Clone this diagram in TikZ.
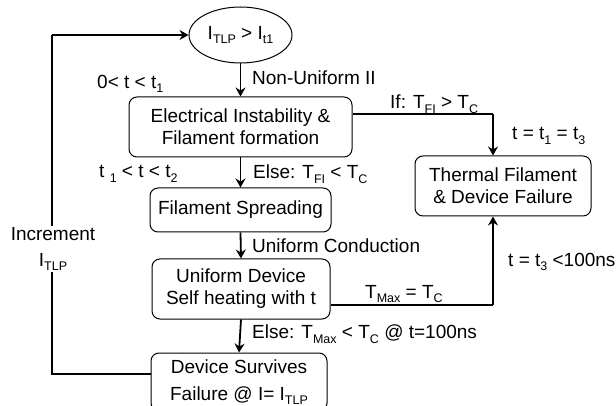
\documentclass[tikz,border=0pt]{standalone}
\usepackage{fontspec}
\setmainfont{Liberation Sans}
\usetikzlibrary{shapes.geometric,arrows.meta}
% small lowered index in the text font
\newcommand\lowix[1]{\raisebox{-4.5pt}{\fontsize{12.5}{12.5}\selectfont #1}}
\begin{document}
\begin{tikzpicture}[x=1pt,y=-1pt,
  every node/.style={font=\fontsize{19}{22}\selectfont},
  stepbox/.style={draw,rounded corners=8pt,line width=1pt,align=center,inner sep=0pt},
  lbl/.style={inner sep=0pt},
  flow/.style={line width=1.8pt,-{Stealth[length=9pt,width=10pt,inset=3pt]}},
  wire/.style={line width=1.2pt}]
\useasboundingbox (0,0) rectangle (616,406);
\begin{scope}
\clip (0,0) rectangle (616,406);

% decision and process boxes
\node[draw,ellipse,line width=1pt,minimum width=103,minimum height=56,inner sep=0pt] (ell) at (240.5,35) {I\lowix{TLP} > I\lowix{t1}};
\node[stepbox,minimum width=223,minimum height=60] (b1) at (240.5,127) {Electrical Instability \&\\Filament formation};
\node[stepbox,minimum width=181,minimum height=44] (b2) at (240.5,210) {Filament Spreading};
\node[stepbox,minimum width=178,minimum height=60] (b3) at (241,289) {Uniform Device\\Self heating with t};
\node[stepbox,minimum width=176,minimum height=58] (b4) at (239,382) {Device Survives\\[5pt]Failure @ I= I\lowix{TLP}};
\node[stepbox,minimum width=176,minimum height=60] (b5) at (503,186) {Thermal Filament\\\& Device Failure};

% main chain
\draw[flow] (ell.south) -- (b1.north);
\draw[flow] (b1.south) -- (b2.north);
\draw[flow] (b2.south) -- (b3.north);
\draw[flow] (b3.south) -- (b4.north);

% branches to failure
\coordinate (r1) at (493,114);
\coordinate (r2) at (493,305);
\draw[wire] (b1.east |- r1) -- (r1);
\draw[flow] (r1) -- (r1 |- b5.north);
\draw[wire] (b3.east |- r2) -- (r2);
\draw[flow] (r2) -- (r2 |- b5.south);

% loop back with incremented current
\coordinate (l1) at (52,374);
\coordinate (l2) at (ell.west -| l1);
\draw[wire] (b4.west |- l1) -- (l1) -- (l2);
\draw[flow] (l2) -- (ell.west);
\node[fill=white,align=center,inner sep=1pt] (inc) at (53,249) {Increment\\[4pt]I\lowix{TLP}};

% edge labels
\node[lbl,anchor=west] (n1) at (252,78) {Non-Uniform II};
\node[lbl,anchor=west] (n2) at (97,84) {0< t < t\lowix{1}};
\node[lbl,anchor=west] (n3) at (390,104) {If: T\lowix{FI} > T\lowix{C}};
\node[lbl,anchor=west] (n4) at (512,136) {t = t\lowix{1} = t\lowix{3}};
\node[lbl,anchor=west] (n5) at (99,174) {t \lowix{1} < t < t\lowix{2}};
\node[lbl,anchor=west] (n6) at (253,174) {Else: T\lowix{FI} < T\lowix{C}};
\node[lbl,anchor=west] (n7) at (252,246) {Uniform Conduction};
\node[lbl,anchor=west] (n8) at (508,262) {t = t\lowix{3} <100ns};
\node[lbl,anchor=west] (n9) at (365,294) {T\lowix{Max} = T\lowix{C}};
\node[lbl,anchor=west] (n10) at (252,334) {Else: T\lowix{Max} < T\lowix{C} @ t=100ns};
\end{scope}
\end{tikzpicture}
\end{document}
